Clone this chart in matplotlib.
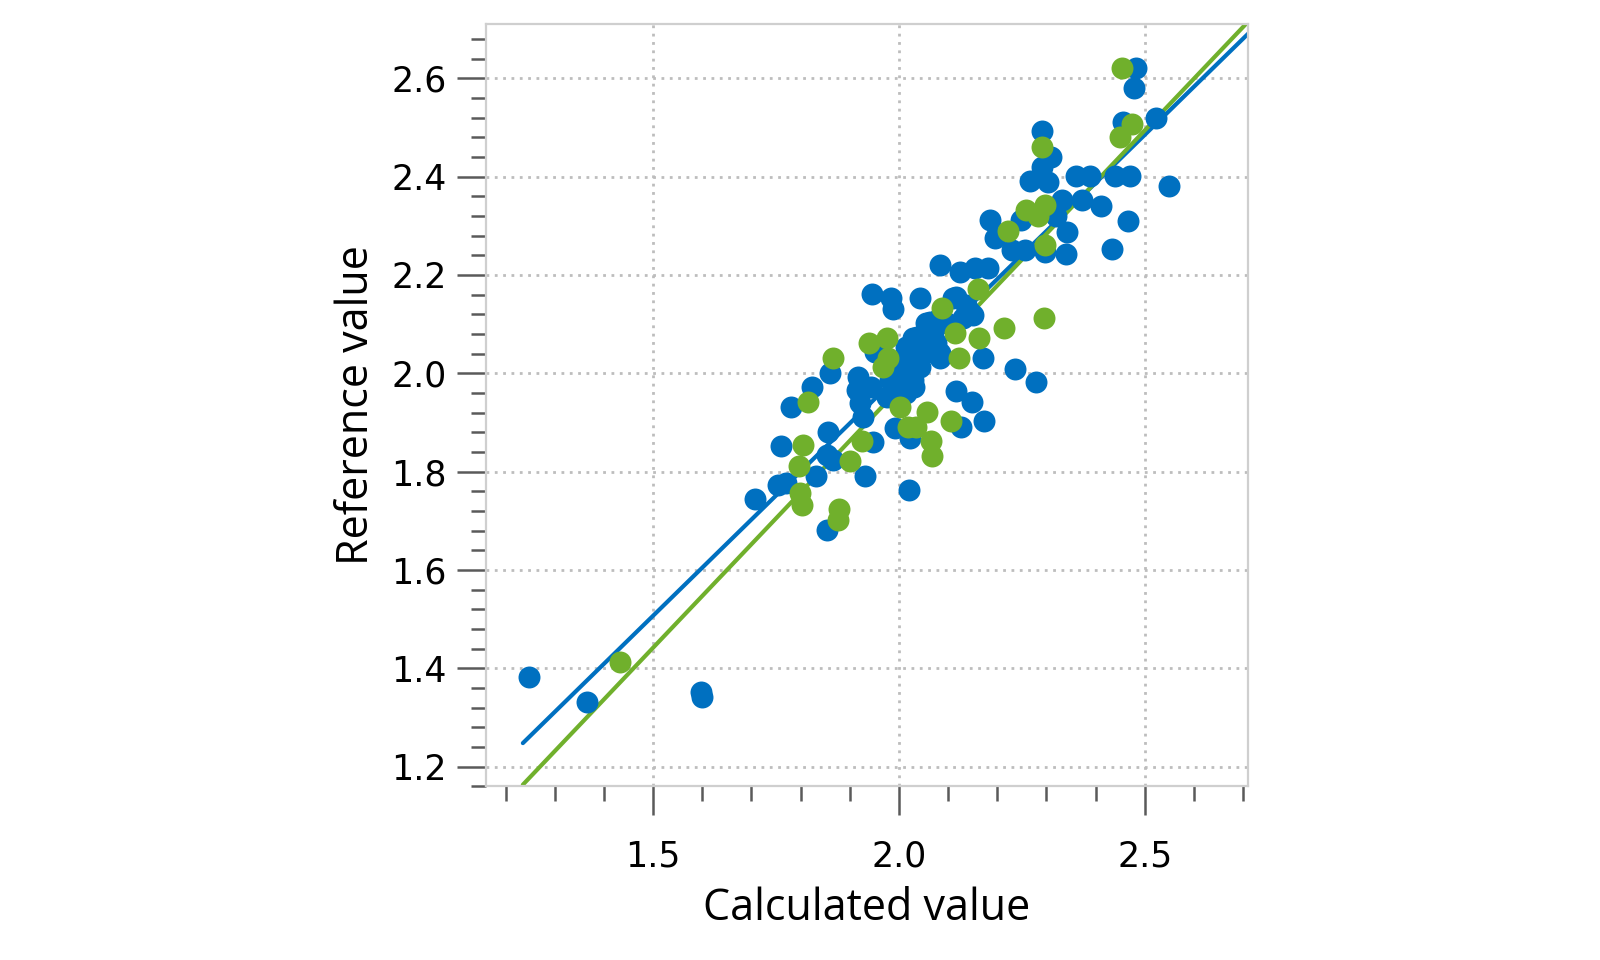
import numpy as np
import matplotlib
matplotlib.use("Agg")
import matplotlib.pyplot as plt
from matplotlib.ticker import MultipleLocator, FormatStrFormatter

# ─── Data ──────────────────────────────────────────────────────────────────

blue_x = [1.247, 1.366, 1.597, 1.600, 1.707, 1.754, 1.771, 1.761, 1.781, 1.824,
          1.859, 1.832, 1.854, 1.856, 1.853, 1.866, 1.947, 1.930, 2.020, 1.991,
          2.022, 1.946, 1.983, 1.988, 1.951, 1.917, 1.914, 1.944, 1.920, 1.927,
          1.975, 2.031, 2.117, 2.148, 2.172, 2.127, 2.237, 2.278, 2.170, 2.083,
          2.124, 2.154, 2.181, 2.042, 2.110, 2.137, 2.130, 2.151, 2.063, 2.029,
          2.049, 2.022, 2.069, 2.036, 2.002, 2.083, 2.117, 2.144, 2.056, 2.083,
          2.036, 2.069, 2.015, 2.056, 2.083, 2.015, 2.042, 2.002, 2.029, 1.995,
          1.981, 2.015, 2.076, 2.097,
          2.482, 2.478, 2.456, 2.522, 2.549, 2.290, 2.310, 2.290, 2.266, 2.303,
          2.361, 2.388, 2.439, 2.469, 2.331, 2.373, 2.412, 2.466, 2.434, 2.320,
          2.341, 2.249, 2.185, 2.195, 2.229, 2.256, 2.297, 2.339]
blue_y = [1.382, 1.332, 1.352, 1.342, 1.745, 1.773, 1.776, 1.852, 1.932, 1.973,
          2.000, 1.792, 1.682, 1.881, 1.834, 1.824, 1.861, 1.792, 1.762, 1.888,
          1.868, 2.161, 2.153, 2.130, 2.044, 1.993, 1.966, 1.973, 1.939, 1.912,
          1.952, 1.973, 1.963, 1.941, 1.902, 1.891, 2.009, 1.982, 2.031, 2.220,
          2.207, 2.214, 2.214, 2.153, 2.153, 2.139, 2.112, 2.119, 2.105, 2.071,
          2.058, 2.044, 2.044, 2.017, 2.017, 2.031, 2.156, 2.125, 2.102, 2.115,
          2.074, 2.074, 2.054, 2.047, 2.041, 2.027, 2.013, 2.000, 1.986, 1.973,
          1.986, 1.959, 2.061, 2.102,
          2.620, 2.580, 2.512, 2.520, 2.381, 2.493, 2.439, 2.420, 2.391, 2.390,
          2.401, 2.401, 2.401, 2.401, 2.352, 2.352, 2.341, 2.310, 2.252, 2.319,
          2.288, 2.312, 2.312, 2.275, 2.251, 2.251, 2.247, 2.243]

green_x = [1.432, 1.798, 1.802, 1.797, 1.805, 1.815, 1.865, 1.878, 1.876, 1.900,
           1.924, 1.939, 1.975, 1.977, 1.968, 2.003, 2.019, 2.034, 2.057, 2.105,
           2.065, 2.067, 2.087, 2.161, 2.113, 2.163, 2.213, 2.296, 2.122, 2.453,
           2.475, 2.449, 2.290, 2.259, 2.297, 2.283, 2.222, 2.297]
green_y = [1.412, 1.756, 1.732, 1.812, 1.854, 1.941, 2.031, 1.725, 1.702, 1.822,
           1.862, 2.061, 2.071, 2.032, 2.012, 1.932, 1.890, 1.891, 1.922, 1.902,
           1.862, 1.832, 2.132, 2.172, 2.081, 2.071, 2.092, 2.112, 2.032, 2.620,
           2.508, 2.480, 2.460, 2.332, 2.342, 2.319, 2.289, 2.261]

# regression lines: slope, intercept
blue_fit = (0.978, 0.040)
green_fit = (1.052, -0.136)
fit_range = (1.235, 2.75)

BLUE = "#0070C0"
GREEN = "#70B02C"

# ─── Figure ────────────────────────────────────────────────────────────────

fig = plt.figure(figsize=(16, 9.6), dpi=100)
ax = fig.add_axes([0.30375, 0.18094, 0.47625, 0.79385])

fx = np.array(fit_range)
ax.plot(fx, blue_fit[0] * fx + blue_fit[1], color=BLUE, linewidth=3.0, zorder=2,
        solid_capstyle="round")
ax.plot(fx, green_fit[0] * fx + green_fit[1], color=GREEN, linewidth=3.0, zorder=2,
        solid_capstyle="round")

ax.scatter(blue_x, blue_y, s=250, color=BLUE, linewidths=0, zorder=3)
ax.scatter(green_x, green_y, s=250, color=GREEN, linewidths=0, zorder=4)

ax.set_xlim(1.16, 2.71)
ax.set_ylim(1.16, 2.71)

ax.xaxis.set_major_locator(MultipleLocator(0.5))
ax.xaxis.set_minor_locator(MultipleLocator(0.1))
ax.yaxis.set_major_locator(MultipleLocator(0.2))
ax.yaxis.set_minor_locator(MultipleLocator(0.04))
ax.xaxis.set_major_formatter(FormatStrFormatter("%.1f"))
ax.yaxis.set_major_formatter(FormatStrFormatter("%.1f"))

ax.tick_params(which="major", direction="out", length=21, width=1.8, color="#5a5a5a",
               labelsize=25, labelcolor="black")
ax.tick_params(which="minor", direction="out", length=10.5, width=1.8, color="#5a5a5a")
ax.tick_params(axis="x", which="major", pad=17)
ax.tick_params(axis="y", which="major", pad=7.5)

for sp in ax.spines.values():
    sp.set_color("#cfcfcf")
    sp.set_linewidth(1.6)

ax.grid(True, which="major", color="#bdbdbd", linewidth=2.0,
        linestyle=(0, (1, 2)))
ax.set_axisbelow(True)

ax.set_xlabel("Calculated value", fontsize=31, family="Open Sans", va="center")
ax.set_ylabel("Reference value", fontsize=31, family="Open Sans", va="center")
ax.xaxis.set_label_coords(0.5, -0.161)
ax.yaxis.set_label_coords(-0.169, 0.5)

fig.savefig("out.png", dpi=100)
